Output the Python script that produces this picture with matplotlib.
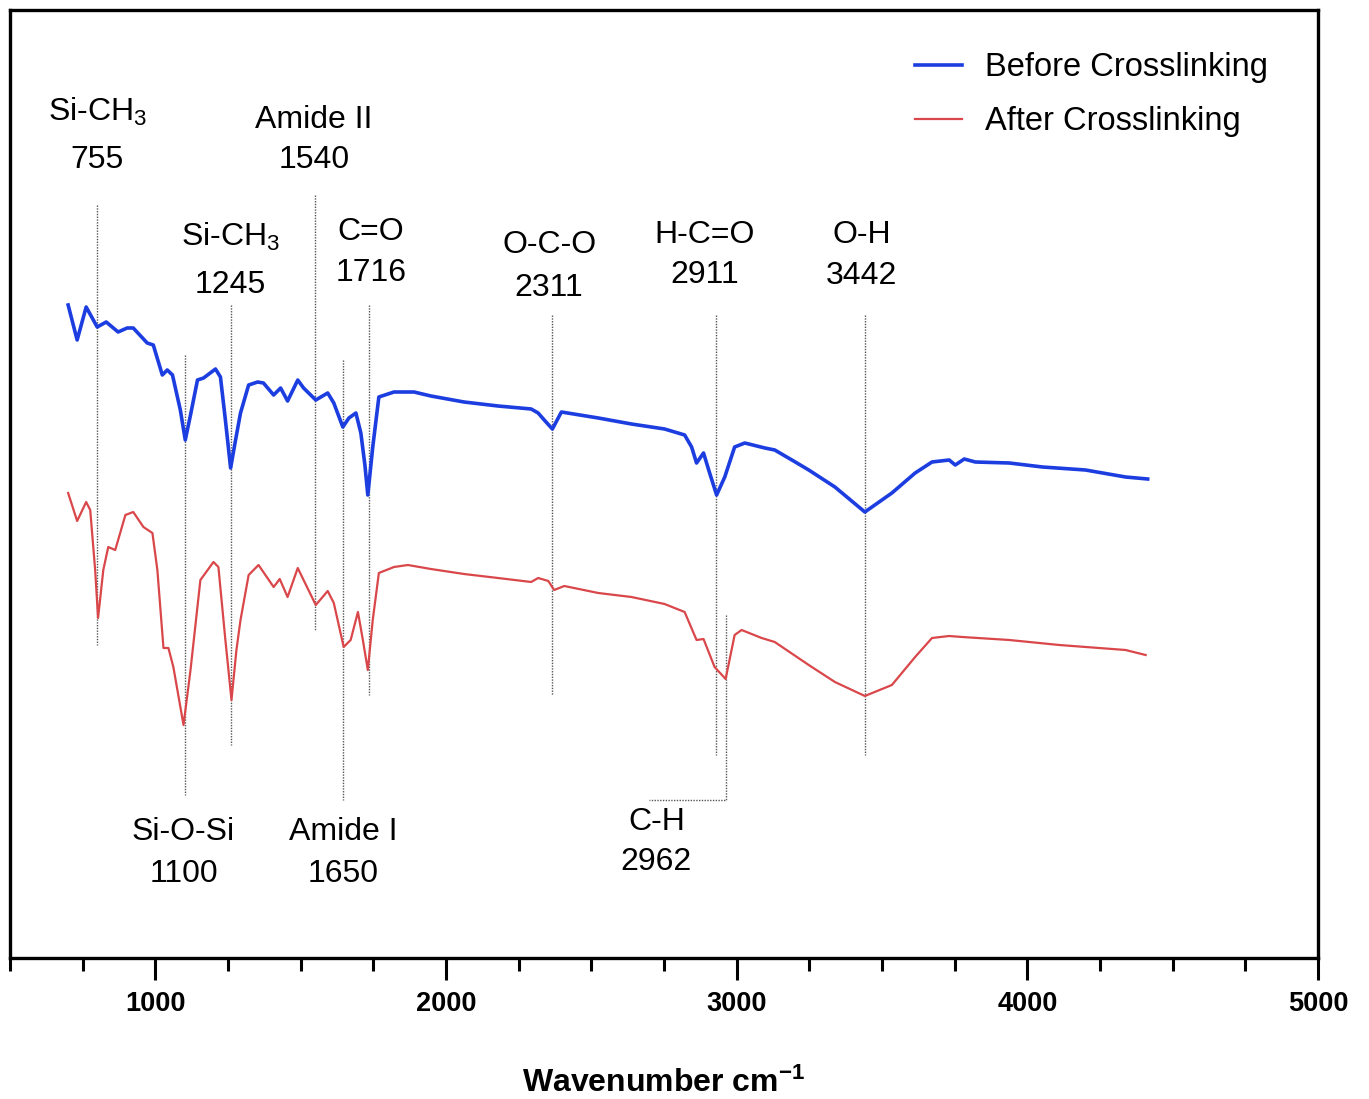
import numpy as np
import matplotlib
matplotlib.use('Agg')
import matplotlib.pyplot as plt

plt.rcParams['font.family'] = ['Liberation Sans', 'DejaVu Sans']
plt.rcParams['mathtext.fontset'] = 'custom'
plt.rcParams['mathtext.rm'] = 'Liberation Sans'
plt.rcParams['mathtext.bf'] = 'Liberation Sans:bold'
plt.rcParams['mathtext.default'] = 'regular'

# FTIR spectrum before crosslinking (wavenumber cm-1, transmittance a.u.)
wn_before = [700, 731, 762, 800, 831, 872, 903, 924, 972, 993, 1024, 1041, 1059, 1086,
             1103, 1121, 1145, 1166, 1207, 1224, 1241, 1259, 1276, 1293, 1321, 1352,
             1372, 1407, 1431, 1455, 1490, 1510, 1552, 1593, 1614, 1645, 1666, 1690,
             1707, 1721, 1731, 1748, 1769, 1821, 1890, 1948, 2062, 2179, 2293, 2317,
             2338, 2366, 2397, 2524, 2638, 2752, 2821, 2845, 2862, 2886, 2907, 2931,
             2959, 2993, 3028, 3097, 3131, 3190, 3248, 3338, 3441, 3534, 3614, 3672,
             3731, 3752, 3783, 3821, 3938, 4052, 4200, 4338, 4414]
t_before = [69.5, 66.0, 69.3, 67.3, 67.8, 66.8, 67.2, 67.2, 65.7, 65.5, 62.5, 63.0, 62.5, 59.0,
            56.0, 58.5, 62.0, 62.2, 63.1, 62.3, 58.0, 53.2, 56.0, 58.7, 61.5, 61.8,
            61.7, 60.5, 61.2, 59.9, 62.0, 61.2, 60.0, 60.7, 59.7, 57.3, 58.2, 58.7,
            56.7, 53.5, 50.5, 55.3, 60.3, 60.8, 60.8, 60.4, 59.8, 59.4, 59.1, 58.7,
            58.0, 57.1, 58.8, 58.2, 57.6, 57.1, 56.5, 55.3, 53.7, 54.7, 52.7, 50.5,
            52.3, 55.3, 55.7, 55.2, 55.0, 54.0, 53.0, 51.3, 48.8, 50.7, 52.7, 53.8,
            54.0, 53.5, 54.1, 53.8, 53.7, 53.3, 53.0, 52.3, 52.1]

# FTIR spectrum after crosslinking
wn_after = [700, 731, 762, 776, 793, 803, 821, 838, 862, 897, 924, 959, 990, 1007, 1028,
            1045, 1062, 1097, 1121, 1155, 1200, 1217, 1241, 1262, 1279, 1293, 1321,
            1355, 1407, 1428, 1455, 1490, 1510, 1552, 1593, 1614, 1648, 1672, 1697,
            1714, 1731, 1748, 1769, 1821, 1869, 1948, 2062, 2179, 2293, 2317, 2352,
            2372, 2407, 2524, 2638, 2752, 2821, 2862, 2886, 2924, 2962, 2993, 3017,
            3086, 3131, 3248, 3338, 3441, 3534, 3614, 3672, 3731, 3776, 3938, 4110,
            4338, 4407]
t_after = [50.7, 47.9, 49.8, 49.0, 43.0, 38.2, 43.0, 45.3, 45.0, 48.5, 48.8, 47.3, 46.7, 43.0, 35.2,
           35.2, 33.3, 27.5, 33.0, 42.0, 43.8, 43.3, 36.0, 30.0, 35.0, 38.0, 42.5,
           43.5, 41.3, 42.1, 40.3, 43.2, 42.0, 39.5, 40.9, 39.7, 35.3, 36.0, 38.8,
           36.0, 33.0, 38.0, 42.7, 43.3, 43.5, 43.1, 42.6, 42.2, 41.8, 42.2, 41.9,
           41.0, 41.4, 40.7, 40.3, 39.6, 38.8, 36.0, 36.1, 33.3, 32.1, 36.5, 37.0,
           36.2, 35.8, 33.5, 31.8, 30.4, 31.5, 34.3, 36.2, 36.4, 36.3, 36.0, 35.5,
           35.0, 34.5]

# band assignments: guide line position, line top/bottom, label text
band_pos = [800, 1103, 1259, 1548, 1645, 1734, 2366, 2928, 3441]
band_top = [79.5, 64.5, 69.5, 80.5, 64.0, 69.5, 68.5, 68.5, 68.5]
band_bot = [35.5, 20.5, 25.5, 37.0, 20.0, 30.5, 30.5, 24.5, 24.5]
band_name = ['Si-CH$_3$', 'Si-O-Si', 'Si-CH$_3$', 'Amide II', 'Amide I', 'C=O',
             'O-C-O', 'H-C=O', 'O-H']
band_num = ['755', '1100', '1245', '1540', '1650', '1716', '2311', '2911', '3442']
label_x = [800, 1097, 1259, 1545, 1645, 1741, 2355, 2890, 3431]
label_y = [88.8, 16.8, 76.3, 88.0, 16.8, 76.8, 75.5, 76.5, 76.5]
num_gap = [4.8, 4.2, 4.8, 4.0, 4.2, 4.1, 4.3, 4.0, 4.1]

fig = plt.figure(figsize=(13.69, 10.99), dpi=100)
ax = fig.add_axes([10/1369, 1 - 958/1099, 1308/1369, 948/1099])

ax.plot(wn_before, t_before, color='#1c3de0', lw=2.6, label='Before Crosslinking',
        solid_joinstyle='round', zorder=3)
ax.plot(wn_after, t_after, color='#d9474a', lw=1.6, label='After Crosslinking',
        solid_joinstyle='round', zorder=3)

guide = dict(color='#555555', lw=1.0, ls=(0, (1, 1)), zorder=2)
for x, y0, y1 in zip(band_pos, band_top, band_bot):
    ax.plot([x, x], [y0, y1], **guide)
for x, y, g, name, num in zip(label_x, label_y, num_gap, band_name, band_num):
    ax.text(x, y, name, ha='center', va='center', fontsize=23)
    ax.text(x, y - g, num, ha='center', va='center', fontsize=23)

# C-H 2962 band, bracket drawn down and to the left
ax.plot([2962, 2962, 2700], [38.5, 20.0, 20.0], **guide)
ax.text(2724, 17.8, 'C-H', ha='center', va='center', fontsize=23)
ax.text(2724, 13.8, '2962', ha='center', va='center', fontsize=23)

ax.set_xlim(500, 5000)
ax.set_ylim(4.2, 99.0)
ax.set_xticks([1000, 2000, 3000, 4000, 5000])
ax.set_xticks(np.arange(500, 5000, 250), minor=True)
ax.set_yticks([])
ax.tick_params(axis='x', which='major', length=16, width=2.2, direction='out', pad=8,
               labelsize=19.5)
ax.tick_params(axis='x', which='minor', length=9, width=2.2, direction='out')
for lab in ax.get_xticklabels():
    lab.set_fontweight('bold')
for s in ax.spines.values():
    s.set_linewidth(2.4)

ax.set_xlabel('Wavenumber cm$^{\\mathbf{-1}}$', fontsize=23, fontweight='bold', labelpad=36)

ax.legend(loc='upper left', bbox_to_anchor=(0.692, 0.9557), frameon=False, fontsize=23.5,
          handlelength=1.44, handletextpad=0.7, labelspacing=0.72, borderpad=0,
          borderaxespad=0)

fig.savefig('out.png', dpi=100)
